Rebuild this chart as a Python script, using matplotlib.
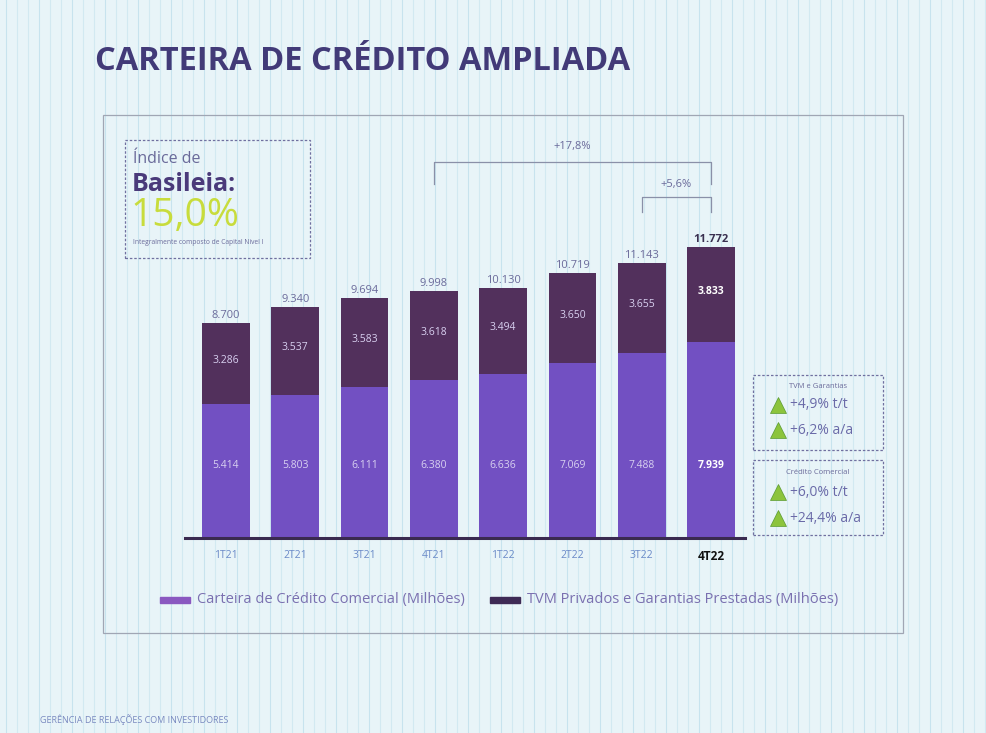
import matplotlib
matplotlib.use("Agg")
import matplotlib.pyplot as plt
from matplotlib.patches import Rectangle
from matplotlib.lines import Line2D
from matplotlib.transforms import blended_transform_factory

plt.rcParams['font.family'] = ['Open Sans', 'DejaVu Sans']

# ---------------- data ----------------
quarters = ["1T21", "2T21", "3T21", "4T21", "1T22", "2T22", "3T22", "4T22"]
comercial = [5414, 5803, 6111, 6380, 6636, 7069, 7488, 7939]
tvm = [3286, 3537, 3583, 3618, 3494, 3650, 3655, 3833]
totais = [8700, 9340, 9694, 9998, 10130, 10719, 11143, 11772]
var_total_aa = "+17,8%"
var_total_tt = "+5,6%"
tvm_var = ["+4,9% t/t", "+6,2% a/a"]
com_var = ["+6,0% t/t", "+24,4% a/a"]
basileia = "15,0%"

W, H = 987, 733
fig = plt.figure(figsize=(W / 100, H / 100), dpi=100)
fig.patch.set_facecolor('#e8f4f8')


def fx(px):
    return px / W


def fy(py):
    return 1 - py / H


# faint vertical scan stripes for texture
for i, px in enumerate(range(6, W, 11)):
    fig.add_artist(Line2D([fx(px), fx(px)], [0, 1], color='#b9dcea',
                          lw=0.8, alpha=0.45 if i % 3 else 0.7, zorder=0))

# title
fig.text(fx(95), fy(62), "CARTEIRA DE CRÉDITO AMPLIADA", fontsize=23.5,
         fontweight='bold', color='#423a78', va='center', ha='left')

# inner frame
fig.add_artist(Rectangle((fx(103), fy(633)), fx(903) - fx(103), fy(115) - fy(633),
                         fill=False, ec='#a0a6b4', lw=0.9, transform=fig.transFigure))

# Basileia box
fig.add_artist(Rectangle((fx(125), fy(258)), fx(310) - fx(125), fy(140) - fy(258),
                         fill=False, ec='#7070a0', lw=0.9, ls=(0, (2, 1.5)),
                         transform=fig.transFigure))
fig.text(fx(133), fy(159), "Índice de", fontsize=11.5, color='#6a6a9a', va='center')
fig.text(fx(132), fy(184), "Basileia:", fontsize=18, fontweight='bold',
         color='#4a3a7a', va='center')
fig.text(fx(130), fy(216), basileia, fontsize=28, color='#c8dc3c', va='center')
fig.text(fx(133), fy(243), "Integralmente composto de Capital Nível I",
         fontsize=4.8, color='#6a6a9a', va='center')

# ---------------- chart ----------------
ax_left, ax_right, ax_bottom, ax_top = 185, 745, 538, 200
ax = fig.add_axes([fx(ax_left), fy(ax_bottom), fx(ax_right) - fx(ax_left),
                   fy(ax_top) - fy(ax_bottom)])
ax.set_facecolor('none')
x = list(range(len(quarters)))
ymax = totais[-1] * (ax_bottom - ax_top) / (ax_bottom - 247)
ax.set_ylim(0, ymax)
spacing = (711 - 226) / 7
ax.set_xlim(-(226 - ax_left) / spacing, 7 + (ax_right - 711) / spacing)

c_com = '#7250c2'
c_tvm = '#52305c'
bw = 0.69
ax.bar(x, comercial, width=bw, color=c_com, zorder=2)
ax.bar(x, tvm, bottom=comercial, width=bw, color=c_tvm, zorder=2)

units_per_px = ymax / (ax_bottom - ax_top)
for i in x:
    last = i == len(x) - 1
    w = 'bold' if last else 'normal'
    ax.text(i, 73 * units_per_px, f"{comercial[i]:,}".replace(",", "."),
            ha='center', va='center', fontsize=7.5, fontweight=w,
            color='white' if last else '#d8d0f0', zorder=3)
    ax.text(i, comercial[i] + tvm[i] / 2 + 3 * units_per_px,
            f"{tvm[i]:,}".replace(",", "."), ha='center', va='center',
            fontsize=7.5, fontweight=w,
            color='white' if last else '#d8d0f0', zorder=3)
    ax.text(i, totais[i] + 2 * units_per_px, f"{totais[i]:,}".replace(",", "."),
            ha='center', va='bottom', fontsize=8, fontweight=w,
            color='#3a3050' if last else '#6a6a9a', zorder=3)

for s in ax.spines.values():
    s.set_visible(False)
ax.axhline(0, color='#3a2a50', lw=2.2, zorder=4, clip_on=False)
ax.set_yticks([])
ax.set_xticks(x)
ax.set_xticklabels(quarters, fontsize=7.5, color='#6a8ac8')
ax.tick_params(axis='x', length=0, pad=9)
lab = ax.get_xticklabels()[-1]
lab.set_fontweight('bold')
lab.set_color('#111111')
lab.set_fontsize(8.5)

# brackets
tr = blended_transform_factory(ax.transData, fig.transFigure)
br_col = '#8a90a8'
for (x0, x1, ytop, ybot, label, ylab) in [
        (3, 7, 162, 184, var_total_aa, 147),
        (6, 7, 197, 212, var_total_tt, 184)]:
    ax.add_line(Line2D([x0, x0, x1, x1], [fy(ybot), fy(ytop), fy(ytop), fy(ybot)],
                       transform=tr, color=br_col, lw=0.9, clip_on=False))
    ax.text((x0 + x1) / 2, fy(ylab), label, transform=tr, ha='center',
            va='center', fontsize=8, color='#6a6a9a', clip_on=False)

# legend
fig.add_artist(Rectangle((fx(160), fy(603)), fx(30), fy(597) - fy(603),
                         color='#8a58c0', transform=fig.transFigure))
fig.text(fx(197), fy(600), "Carteira de Crédito Comercial (Milhões)",
         fontsize=10.5, color='#7a70b0', va='center')
fig.add_artist(Rectangle((fx(490), fy(603)), fx(30), fy(597) - fy(603),
                         color='#3e2a55', transform=fig.transFigure))
fig.text(fx(527), fy(600), "TVM Privados e Garantias Prestadas (Milhões)",
         fontsize=10.5, color='#7a70b0', va='center')

# right side boxes
for (ytop, ybot, header, rows, rowy) in [
        (375, 450, "TVM e Garantias", tvm_var, (405, 430)),
        (460, 535, "Crédito Comercial", com_var, (492, 518))]:
    fig.add_artist(Rectangle((fx(753), fy(ybot)), fx(883) - fx(753), fy(ytop) - fy(ybot),
                             fill=False, ec='#7070a0', lw=0.9, ls=(0, (2, 1.5)),
                             transform=fig.transFigure))
    fig.text(fx(818), fy(ytop + 12), header, fontsize=5.5, color='#6a6a9a',
             ha='center', va='center')
    for r, yy in zip(rows, rowy):
        fig.add_artist(Line2D([fx(778)], [fy(yy)], marker='^', markersize=11,
                              color='#8cc43c', mec='#5a9a30', mew=0.5,
                              transform=fig.transFigure))
        fig.text(fx(790), fy(yy), r, fontsize=10, color='#6a6aa8', va='center')

# footer
fig.text(fx(40), fy(720), "GERÊNCIA DE RELAÇÕES COM INVESTIDORES", fontsize=6.5,
         color='#7a8ac0', va='center')

fig.savefig("out.png", dpi=100, facecolor=fig.get_facecolor())
